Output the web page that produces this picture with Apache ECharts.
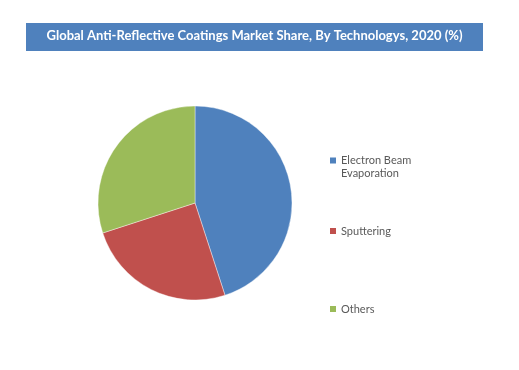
<!DOCTYPE html>
<html><head><meta charset="utf-8">
<script src="https://cdn.jsdelivr.net/npm/echarts@6/dist/echarts.min.js"></script>
<style>html,body{margin:0;padding:0;background:#fff}#c{width:519px;height:370px}</style>
</head><body><div id="c"></div>
<script>
const titleText = 'Global Anti-Reflective Coatings Market Share, By Technologys, 2020 (%)';
const categories = ['Electron Beam\nEvaporation', 'Sputtering', 'Others'];
const values = [45, 25, 30];
const colors = ['#4F81BD', '#C0504D', '#9BBB59'];

const chart = echarts.init(document.getElementById('c'), null, {renderer: 'canvas'});
const legendText = {color: '#595959', fontFamily: 'Lato', fontSize: 11, lineHeight: 13};
const base = {left: 330, orient: 'vertical', padding: 0, itemWidth: 6, itemHeight: 6, icon: 'rect',
  itemStyle: {borderWidth: 0}, textStyle: legendText};
chart.setOption({
  animation: false,
  color: colors,
  graphic: [{type: 'rect', shape: {x: 26, y: 23, width: 457, height: 28}, style: {fill: '#4F81BD'}, z: -1}],
  title: {text: titleText, left: 254.5, top: 29, textAlign: 'center', padding: 0,
    textStyle: {color: '#fff', fontFamily: 'Lato', fontWeight: 'bold', fontSize: 13}},
  legend: [
    Object.assign({}, base, {data: [categories[0]], top: 154, itemHeight: 19,
      icon: 'path://M0,0h6v6h-6z M0,19h0.01v0.01h-0.01z'}),
    Object.assign({}, base, {data: [categories[1]], top: 224.5}),
    Object.assign({}, base, {data: [categories[2]], top: 302.5})
  ],
  series: [{
    type: 'pie', center: [195, 203], radius: 97, startAngle: 90, clockwise: true,
    label: {show: false}, labelLine: {show: false},
    itemStyle: {borderColor: '#ffffff', borderWidth: 0.4},
    emphasis: {disabled: true},
    data: categories.map((c, i) => ({name: c, value: values[i]}))
  }]
});
</script></body></html>
